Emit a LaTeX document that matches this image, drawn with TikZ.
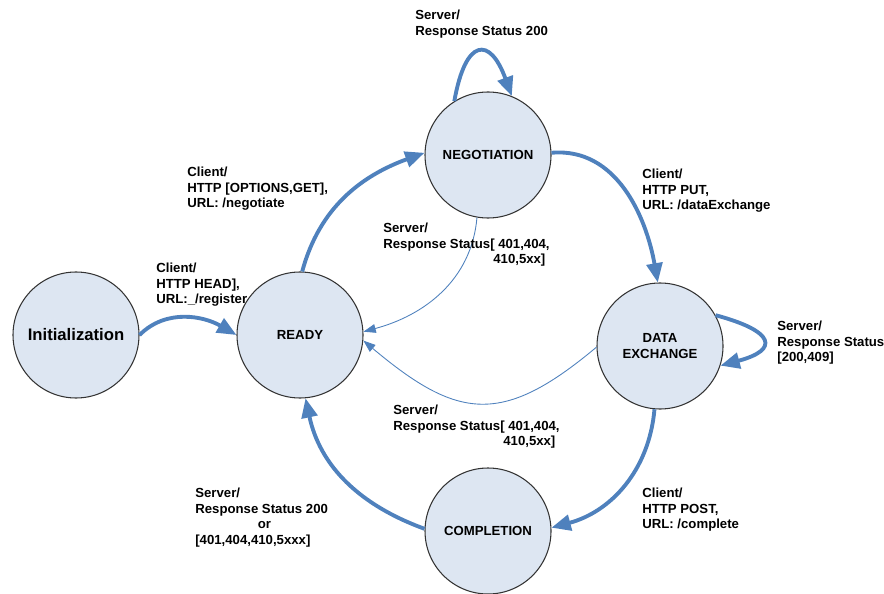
\documentclass[tikz,border=0pt]{standalone}
\usepackage{fontspec}
\setmainfont{Liberation Sans}
\usepackage{tikz}
\usetikzlibrary{arrows.meta, positioning}
\definecolor{flowblue}{RGB}{79, 129, 189}
\definecolor{statefill}{RGB}{221, 230, 242}

\begin{document}
\begin{tikzpicture}[
    on grid,
    state/.style={circle, draw=black!80, fill=statefill, line width=0.6pt, minimum size=2.52cm, inner sep=0pt, align=center, font=\fontsize{7.5}{9}\selectfont\bfseries},
    arrow/.style={-{Triangle[length=11pt, width=9pt]}, line width=2.2pt, color=flowblue},
    thinarrow/.style={-{Triangle[length=7pt, width=5pt]}, line width=0.5pt, color=flowblue},
    note/.style={anchor=north west, inner sep=0pt, align=left, font=\fontsize{7.5}{8.8}\selectfont\bfseries}
]
    \useasboundingbox (0,0) rectangle (17.68,11.86);

    % states
    \node[state, font=\fontsize{9.5}{11}\selectfont\bfseries] (init) at (1.52,5.16) {Initialization};
    \node[state, right=4.48cm of init] (ready) {READY};
    \node[state, above right=3.6cm and 3.76cm of ready] (nego) {NEGOTIATION};
    \node[state, below right=3.82cm and 3.44cm of nego] (data) {DATA\\EXCHANGE};
    \node[state, below left=3.7cm and 3.44cm of data] (compl) {COMPLETION};

    % transitions
    \draw[arrow] (init.0) to[out=45, in=150] (ready.180);
    \draw[arrow] (ready.88) to[out=75, in=200] (nego.178);
    \draw[arrow] (nego.122) to[out=80, in=110, looseness=2.85] (nego.68);
    \draw[arrow] (nego.2) to[out=5, in=100] (data.92);
    \draw[arrow] (data.29) to[out=-15, in=15, looseness=3.1] (data.-18);
    \draw[arrow] (data.-95) to[out=-95, in=15] (compl.3);
    \draw[arrow] (compl.178) to[out=160, in=-78] (ready.-85);
    \draw[thinarrow] (nego.-100) to[out=-95, in=15] (ready.3);
    \draw[thinarrow] (data.181) to[out=220, in=-40, looseness=1.35] (ready.-5);

    % labels
    \node[note] (lreg) at (3.12,6.60) {Client/\\HTTP HEAD],\\URL:\_/register};
    \node[note] (lneg) at (3.74,8.52) {Client/\\HTTP [OPTIONS,GET],\\URL: /negotiate};
    \node[note] (lnegfail) at (7.66,7.40) {Server/\\Response Status[ 401,404,\\\hspace*{2.2cm}410,5xx]};
    \node[note] (lnegok) at (8.30,11.66) {Server/\\Response Status 200};
    \node[note] (lput) at (12.84,8.48) {Client/\\HTTP PUT,\\URL: /dataExchange};
    \node[note] (ldataok) at (15.54,5.44) {Server/\\Response Status\\{[200,409]}};
    \node[note] (ldatafail) at (7.86,3.76) {Server/\\Response Status[ 401,404,\\\hspace*{2.2cm}410,5xx]};
    \node[note] (ldone) at (3.90,2.10) {Server/\\Response Status 200\\\hspace*{1.25cm}or\\{[401,404,410,5xxx]}};
    \node[note] (lpost) at (12.84,2.10) {Client/\\HTTP POST,\\URL: /complete};
\end{tikzpicture}
\end{document}
